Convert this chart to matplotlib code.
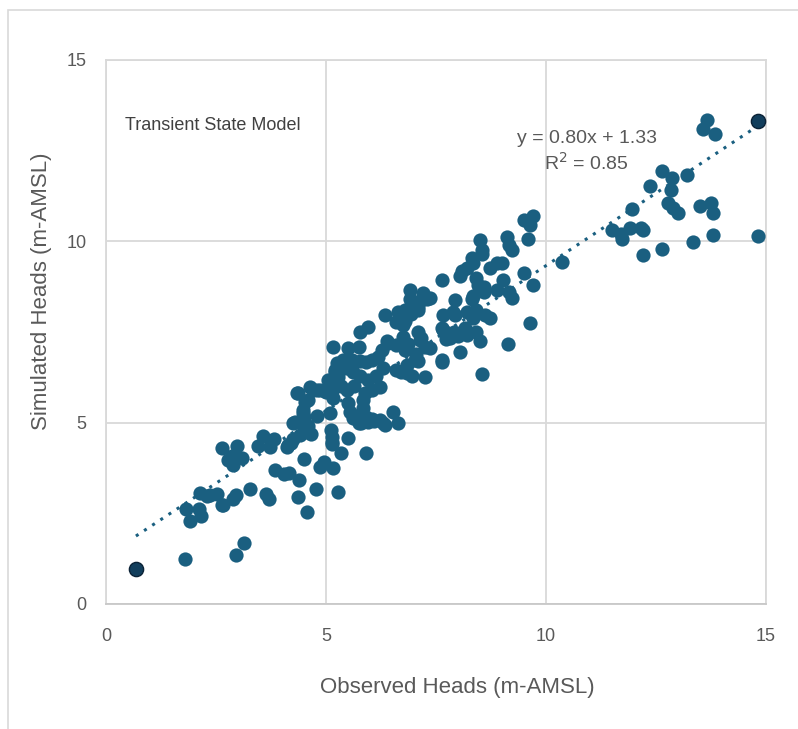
#!/usr/bin/env python3
"""Observed vs simulated heads scatter, transient state model."""
from __future__ import annotations

import matplotlib

matplotlib.use("Agg")
import matplotlib.pyplot as plt
from matplotlib.patches import Rectangle


OUTPUT = "out.png"
COLOR = "#1A5F80"
DARK = "#123E5C"
TEXT = "#595959"
GRID = "#D9D9D9"

# fit shown on the chart
SLOPE = 0.80
INTERCEPT = 1.33
R2 = 0.85

# first and last points (drawn darker on the chart)
END_OBS = [0.68, 14.82]
END_SIM = [0.97, 13.32]

OBSERVED = [
    # lower left
    1.80, 2.95, 3.14, 1.91, 1.82, 2.12, 2.17, 2.14, 2.30, 2.53, 2.64, 2.89, 2.95,
    3.28, 3.64, 3.71, 4.37, 4.56, 4.77, 2.64, 2.97, 2.86, 2.77, 3.08, 2.88, 3.56,
    3.46, 3.73, 3.82, 4.14, 4.26, 4.50, 3.84, 4.05, 4.17, 4.39, 4.26, 4.48, 4.60,
    4.11, 4.20, 4.95, 4.86, 5.17, 5.28, 5.13, 5.11, 4.67, 4.55, 4.30, 4.47, 4.79,
    4.52, 4.37, 4.64, 4.86, 5.09, 5.13, 5.05, 5.20, 2.36, 2.65,
    # middle
    5.17, 5.51, 5.74, 5.77, 5.96, 6.34, 6.64, 6.60, 6.76, 6.91, 7.02, 7.17, 7.10,
    6.76, 7.14, 7.25, 7.02, 7.25, 6.83, 6.60, 6.42, 6.27, 6.19, 6.04, 5.92, 5.77,
    5.58, 5.39, 5.24, 5.20, 5.28, 5.13, 5.45, 5.61, 5.77, 5.96, 6.14, 6.30, 6.23,
    6.04, 5.89, 5.85, 5.64, 5.47, 5.35, 5.17, 5.51, 5.55, 5.62, 5.77, 5.74, 5.96,
    5.85, 6.04, 6.23, 6.34, 6.53, 6.64, 4.70, 4.98, 4.60, 4.48, 4.56, 5.51, 5.92,
    5.35, 5.13, 4.40, 4.60, 4.50, 5.13, 5.90, 5.80, 6.10, 6.30, 7.21, 7.30, 6.98,
    7.63, 6.38, 6.60, 7.36, 7.63, 7.67, 7.73, 7.09, 6.95, 6.70, 4.33, 4.80, 5.00,
    7.10,
    # upper middle
    9.71, 9.49, 9.64, 9.60, 9.11, 9.22, 9.15, 8.50, 8.54, 8.55, 8.31, 8.35, 8.20,
    8.08, 8.05, 8.73, 8.88, 8.99, 9.03, 8.88, 9.22, 9.15, 9.49, 9.71, 9.64, 9.14,
    8.54, 6.91, 7.36, 7.08, 6.98, 6.80, 6.80, 7.93, 8.42, 8.45, 8.58, 8.35, 8.31,
    8.60, 7.67, 7.89, 7.93, 8.20, 8.42, 8.61, 8.73, 8.35, 7.63, 7.70, 7.90, 7.82,
    8.00, 8.16, 8.20, 8.40, 8.50, 8.05, 7.63, 7.17, 6.86, 6.80, 7.05, 6.83, 6.93,
    # upper right
    13.65, 13.56, 13.83, 12.63, 12.86, 13.20, 12.36, 12.83, 11.95, 12.78, 12.89,
    13.01, 13.50, 13.75, 13.79, 11.49, 11.91, 12.17, 12.20, 11.72, 11.70, 12.63,
    12.21, 13.35, 13.79, 14.81, 10.36,
]

SIMULATED = [
    # lower left
    1.24, 1.34, 1.68, 2.30, 2.63, 2.63, 2.42, 3.07, 2.98, 3.03, 2.73, 2.90, 3.00,
    3.17, 3.03, 2.89, 2.94, 2.53, 3.17, 4.29, 4.36, 4.09, 3.97, 4.03, 3.83, 4.63,
    4.36, 4.34, 4.54, 4.38, 4.54, 4.00, 3.69, 3.58, 3.60, 3.42, 4.98, 4.96, 4.75,
    4.32, 4.45, 3.92, 3.79, 3.74, 3.10, 4.48, 4.80, 4.70, 4.94, 5.03, 5.26, 5.18,
    5.58, 5.81, 5.97, 5.90, 5.26, 5.86, 6.18, 6.45, 3.00, 2.73,
    # middle
    7.09, 7.05, 7.09, 7.51, 7.65, 7.97, 8.06, 7.78, 7.69, 8.66, 8.29, 8.38, 8.10,
    7.37, 7.28, 7.09, 6.73, 6.27, 6.36, 6.45, 7.19, 7.00, 6.82, 6.73, 6.68, 6.70,
    6.73, 6.73, 6.64, 6.41, 6.27, 6.13, 6.50, 6.40, 6.30, 6.18, 6.30, 6.50, 5.99,
    5.90, 5.81, 5.62, 6.00, 5.90, 6.00, 5.67, 5.53, 5.30, 5.12, 5.21, 4.98, 5.03,
    5.40, 5.10, 5.07, 4.94, 5.30, 4.98, 5.90, 5.86, 5.62, 5.35, 4.85, 4.57, 4.15,
    4.15, 4.40, 4.65, 4.90, 5.15, 4.60, 5.15, 5.00, 5.05, 5.00, 8.57, 8.40, 8.30,
    8.93, 7.24, 7.15, 7.05, 6.73, 7.55, 7.30, 6.70, 6.30, 6.40, 5.81, 5.90, 5.85,
    7.51,
    # upper middle
    10.71, 10.59, 10.45, 10.06, 10.13, 9.76, 9.90, 10.04, 9.76, 9.65, 9.53, 9.40,
    9.26, 9.17, 9.05, 9.26, 9.40, 9.40, 8.93, 8.66, 8.43, 8.60, 9.12, 8.80, 7.76,
    7.17, 6.34, 8.40, 8.43, 8.20, 8.11, 8.10, 7.80, 8.38, 8.98, 8.80, 8.75, 8.48,
    8.40, 8.60, 7.97, 8.06, 7.97, 8.06, 8.10, 7.97, 7.88, 7.88, 7.60, 7.50, 7.50,
    7.33, 7.40, 7.60, 7.42, 7.50, 7.24, 6.96, 6.68, 7.33, 7.16, 7.00, 6.90, 6.59,
    8.00,
    # upper right
    13.34, 13.09, 12.96, 11.95, 11.74, 11.83, 11.52, 11.41, 10.88, 11.05, 10.91,
    10.77, 10.97, 11.07, 10.79, 10.31, 10.36, 10.36, 10.30, 10.06, 10.20, 9.78,
    9.62, 9.99, 10.17, 10.15, 9.44,
]

TICKS = [0, 5, 10, 15]


def main() -> None:
    plt.rcParams.update({
        "font.family": ["Liberation Sans", "DejaVu Sans"],
        "font.size": 13,
        "xtick.color": TEXT,
        "ytick.color": TEXT,
        "xtick.labelcolor": TEXT,
        "ytick.labelcolor": TEXT,
    })
    fig = plt.figure(figsize=(7.98, 7.29), dpi=100)
    fig.patches.append(Rectangle((8 / 798, -0.1), 1.2, 0.1 + (729 - 10) / 729,
                                 transform=fig.transFigure, fill=False,
                                 edgecolor=GRID, linewidth=1.2))
    ax = fig.add_axes((106 / 798, 125 / 729, 660 / 798, 544 / 729))

    ax.scatter(OBSERVED, SIMULATED, s=105, color=COLOR, linewidths=0, zorder=3)
    ax.scatter(END_OBS, END_SIM, s=105, color=DARK, edgecolors="#0B2236",
               linewidths=1.0, zorder=4)

    x0, x1 = min(END_OBS), max(END_OBS)
    ax.plot([x0, x1], [SLOPE * x0 + INTERCEPT, SLOPE * x1 + INTERCEPT],
            linestyle=(0, (1, 2.2)), color=COLOR, linewidth=2.2, zorder=2)

    ax.set_xlim(0, 15)
    ax.set_ylim(0, 15)
    ax.set_xticks(TICKS)
    ax.set_yticks(TICKS)
    ax.tick_params(length=0, labelsize=13)
    ax.tick_params(axis="x", pad=17)
    ax.tick_params(axis="y", pad=14)
    ax.grid(color=GRID, linewidth=1.3, zorder=0)
    ax.set_axisbelow(True)
    for spine in ax.spines.values():
        spine.set_color(GRID)
        spine.set_linewidth(1.3)
    ax.spines["bottom"].set_color("#C8C8C8")

    xl = ax.set_xlabel("Observed Heads (m-AMSL)", fontsize=16, color=TEXT,
                       va="center", ha="center")
    ax.xaxis.set_label_coords(0.532, -0.154)
    yl = ax.set_ylabel("Simulated Heads (m-AMSL)", fontsize=16, color=TEXT,
                       va="center", ha="center")
    ax.yaxis.set_label_coords(-0.097, 0.574)

    ax.text(0.43, 13.2, "Transient State Model", fontsize=13, color="#404040",
            ha="left", va="center")
    ax.text(10.93, 12.47, f"y = {SLOPE:.2f}x + {INTERCEPT:.2f}\nR$^2$ = {R2:.2f}",
            fontsize=14, color=TEXT, ha="center", va="center", linespacing=1.3)

    fig.savefig(OUTPUT, dpi=100)
    plt.close(fig)


if __name__ == "__main__":
    main()
